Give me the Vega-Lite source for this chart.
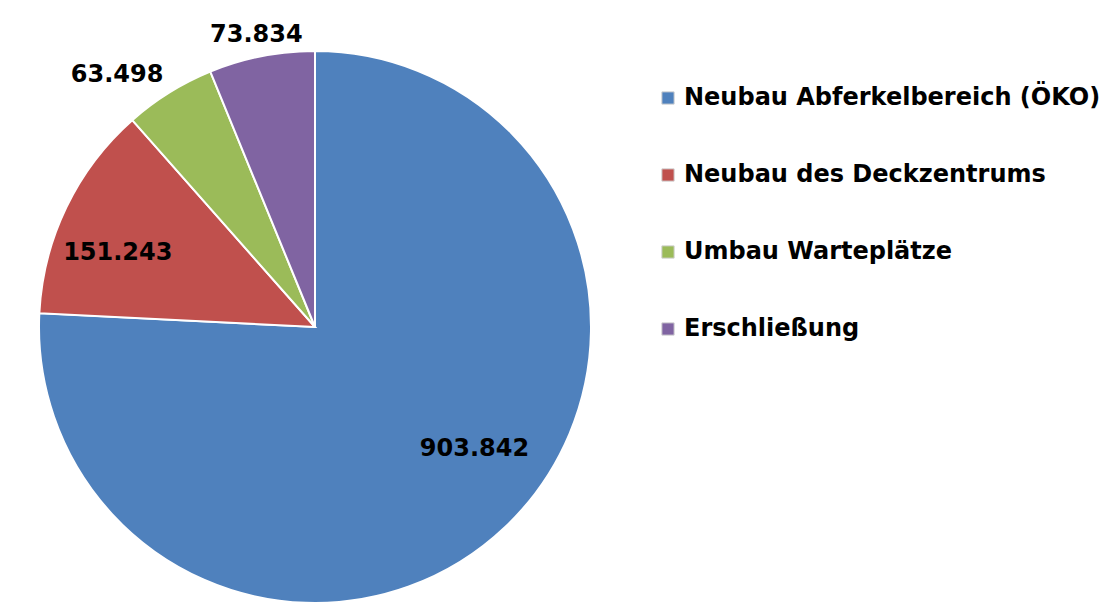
{
  "$schema": "https://vega.github.io/schema/vega-lite/v6.json",
  "width": 630,
  "height": 654,
  "padding": {"left": 0, "top": 0, "right": 482, "bottom": 0},
  "autosize": "none",
  "background": "white",
  "config": {"view": {"stroke": null}},
  "data": {"values": [
    {"kategorie": "Neubau Abferkelbereich (ÖKO)", "betrag": 903842, "label": "903.842", "rang": 1},
    {"kategorie": "Neubau des Deckzentrums", "betrag": 151243, "label": "151.243", "rang": 2},
    {"kategorie": "Umbau Warteplätze", "betrag": 63498, "label": "63.498", "rang": 3},
    {"kategorie": "Erschließung", "betrag": 73834, "label": "73.834", "rang": 4}
  ]},
  "encoding": {
    "theta": {"field": "betrag", "type": "quantitative", "stack": true},
    "order": {"field": "rang", "type": "quantitative"}
  },
  "layer": [
    {
      "mark": {"type": "arc", "outerRadius": 276, "stroke": "white", "strokeWidth": 2},
      "encoding": {
        "color": {
          "field": "kategorie",
          "type": "nominal",
          "sort": ["Neubau Abferkelbereich (ÖKO)", "Neubau des Deckzentrums", "Umbau Warteplätze", "Erschließung"],
          "scale": {
            "domain": ["Neubau Abferkelbereich (ÖKO)", "Neubau des Deckzentrums", "Umbau Warteplätze", "Erschließung"],
            "range": ["#4F81BD", "#C0504D", "#9BBB59", "#8064A2"]
          },
          "legend": {
            "title": null,
            "orient": "none",
            "legendX": 656,
            "legendY": 86,
            "symbolType": "square",
            "symbolSize": 150,
            "symbolStrokeColor": "#d0d0d0",
            "symbolStrokeWidth": 1,
            "labelFont": "DejaVu Sans",
            "labelFontWeight": "bold",
            "labelFontSize": 24,
            "labelColor": "#000000",
            "labelOffset": 4,
            "labelLimit": 600,
            "rowPadding": 53
          }
        }
      }
    },
    {
      "mark": {
        "type": "text",
        "font": "DejaVu Sans",
        "fontWeight": "bold",
        "fontSize": 24,
        "align": "center",
        "baseline": "middle",
        "radius": {"expr": "datum.rang == 1 ? 198 : datum.rang == 2 ? 210 : datum.rang == 3 ? 318 : 298"},
        "dx": {"expr": "datum.rang == 1 ? 23 : datum.rang == 2 ? -8 : datum.rang == 3 ? -30 : -1"},
        "dy": {"expr": "datum.rang == 1 ? -21 : datum.rang == 2 ? 17 : datum.rang == 3 ? 18 : 0"}
      },
      "encoding": {
        "text": {"field": "label"},
        "color": {"value": "#000000"}
      }
    }
  ]
}
